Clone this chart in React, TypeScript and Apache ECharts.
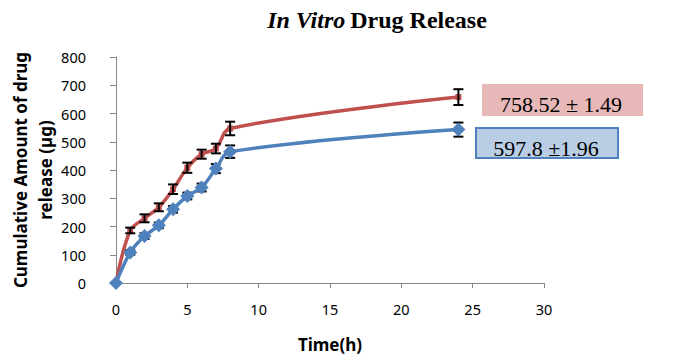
import React, { useEffect, useRef } from "react";
import * as echarts from "echarts";

const timeH = [0, 1, 2, 3, 4, 5, 6, 7, 8, 24];
const redRelease = [0, 186, 229, 268, 332, 408, 456, 476, 547, 658];
const redError = [0, 10, 14, 14, 17, 18, 16, 17, 24, 28];
const blueRelease = [0, 108, 166, 204, 261, 308, 338, 405, 465, 543];
const blueError = [0, 8, 10, 10, 12, 12, 14, 16, 22, 25];
const xTicks = { min: 0, max: 30, interval: 5 };
const yTicks = { min: 0, max: 800, interval: 100 };
const redLabel = "758.52 ± 1.49";
const blueLabel = "597.8 ±1.96";

const RED = "#C0504D";
const BLUE = "#4F81BD";

function errorSeries(values: number[], errs: number[], z: number) {
  return {
    type: "custom",
    z,
    silent: true,
    data: timeH.map((t, i) => [t, values[i], errs[i]]),
    renderItem: (_params: any, api: any) => {
      const x = api.value(0);
      const y = api.value(1);
      const e = api.value(2);
      if (!e) return { type: "group", children: [] };
      const top = api.coord([x, y + e]);
      const bot = api.coord([x, y - e]);
      const hw = 5;
      const style = { stroke: "#000", lineWidth: 2 };
      return {
        type: "group",
        children: [
          { type: "line", shape: { x1: top[0], y1: top[1], x2: bot[0], y2: bot[1] }, style },
          { type: "line", shape: { x1: top[0] - hw, y1: top[1], x2: top[0] + hw, y2: top[1] }, style },
          { type: "line", shape: { x1: bot[0] - hw, y1: bot[1], x2: bot[0] + hw, y2: bot[1] }, style },
        ],
      };
    },
  };
}

export default function App() {
  const ref = useRef<HTMLDivElement>(null);
  useEffect(() => {
    document.body.style.margin = "0";
    const chart = echarts.init(ref.current!, null, { renderer: "svg" });
    const axisColor = "#868686";
    chart.setOption({
      animation: false,
      backgroundColor: "#fff",
      title: {
        text: "{i|In Vitro} {b|Drug Release}",
        left: 372,
        top: 3,
        textAlign: "center",
        textStyle: {
          rich: {
            i: { fontFamily: "Liberation Serif", fontStyle: "italic", fontSize: 24, color: "#000" },
            b: { fontFamily: "Liberation Serif", fontWeight: "bold", fontSize: 24, color: "#000" },
          },
        },
      },
      grid: { left: 116, right: 150, top: 57, bottom: 78, containLabel: false, outerBoundsMode: "none" },
      xAxis: {
        type: "value",
        min: xTicks.min,
        max: xTicks.max,
        interval: xTicks.interval,
        name: "Time(h)",
        nameLocation: "middle",
        nameGap: 53,
        nameMoveOverlap: false,
        nameTextStyle: { fontFamily: "Noto Sans", fontWeight: "bold", fontSize: 17, color: "#000" },
        axisLine: { lineStyle: { color: axisColor, width: 1 } },
        axisTick: { show: true, length: 5, lineStyle: { color: axisColor } },
        axisLabel: { margin: 18, fontFamily: "Noto Sans", fontSize: 14.5, color: "#000" },
        splitLine: { show: false },
      },
      yAxis: {
        type: "value",
        min: yTicks.min,
        max: yTicks.max,
        interval: yTicks.interval,
        name: "Cumulative Amount of drug\nrelease (µg)",
        nameLocation: "middle",
        nameRotate: 90,
        nameGap: 58,
        nameMoveOverlap: false,
        nameTextStyle: {
          fontFamily: "Noto Sans",
          fontWeight: "bold",
          fontSize: 17,
          lineHeight: 25,
          color: "#000",
          align: "center",
        },
        axisLine: { show: true, lineStyle: { color: axisColor, width: 1 } },
        axisTick: { show: true, length: 6, lineStyle: { color: axisColor } },
        axisLabel: { margin: 30, fontFamily: "Noto Sans", fontSize: 14.5, color: "#000" },
        splitLine: { show: false },
      },
      series: [
        {
          name: "Red formulation",
          type: "line",
          z: 2,
          smooth: 0.35,
          data: timeH.map((t, i) => [t, redRelease[i]]),
          lineStyle: { color: RED, width: 3.5 },
          itemStyle: { color: RED },
          symbol: "rect",
          symbolSize: 6,
        },
        errorSeries(redRelease, redError, 3),
        errorSeries(blueRelease, blueError, 3),
        {
          name: "Blue formulation",
          type: "line",
          z: 4,
          smooth: 0.35,
          data: timeH.map((t, i) => [t, blueRelease[i]]),
          lineStyle: { color: BLUE, width: 3.5 },
          itemStyle: { color: BLUE },
          symbol: "diamond",
          symbolSize: 14,
        },
      ],
      graphic: [
        {
          type: "rect",
          shape: { x: 482, y: 84, width: 161, height: 32 },
          style: { fill: "#E6B9B8", stroke: "none" },
          z: 10,
        },
        {
          type: "text",
          x: 561,
          y: 104,
          style: {
            text: redLabel,
            fontFamily: "Liberation Serif",
            fontSize: 22,
            fill: "#000",
            align: "center",
            verticalAlign: "middle",
          },
          z: 11,
        },
        {
          type: "rect",
          shape: { x: 476, y: 128, width: 142, height: 30 },
          style: { fill: "#B9CDE5", stroke: BLUE, lineWidth: 2 },
          z: 10,
        },
        {
          type: "text",
          x: 546,
          y: 148,
          style: {
            text: blueLabel,
            fontFamily: "Liberation Serif",
            fontSize: 22,
            fill: "#000",
            align: "center",
            verticalAlign: "middle",
          },
          z: 11,
        },
      ],
    });
    return () => chart.dispose();
  }, []);
  return <div ref={ref} style={{ width: 694, height: 361 }} />;
}
